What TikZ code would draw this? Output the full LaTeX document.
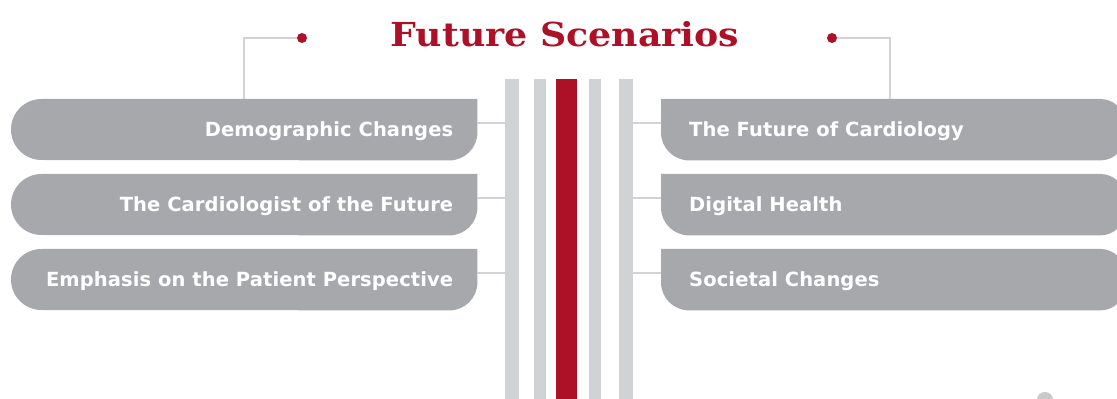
\documentclass[tikz,border=0pt]{standalone}
\usepackage{fontspec}
\setmainfont{DejaVu Sans}
\newfontfamily\titlefont[UprightFont={* Bold}, FakeStretch=1.1]{DejaVu Serif}
\newfontfamily\boxfont[UprightFont={* Bold}, LetterSpace=0.5]{DejaVu Sans}
\definecolor{fsred}{HTML}{AC1128}
\definecolor{boxgray}{HTML}{A7A8AB}
\definecolor{bargray}{HTML}{D1D2D4}
\definecolor{conngray}{HTML}{D3D3D5}
\definecolor{dotgray}{HTML}{C9C9CB}
\tikzset{
  holder/.style={rectangle, inner sep=0pt, minimum width=#1, minimum height=61pt},
  boxtext/.style={inner sep=0pt, text=white, font=\boxfont\fontsize{19.5}{20}\selectfont},
  bar/.style={rectangle, inner sep=0pt, minimum height=340pt, anchor=north west},
  conn/.style={draw=conngray, line width=1.5pt},
  reddot/.style={circle, fill=fsred, inner sep=0pt, minimum size=10pt},
  titletext/.style={inner sep=0pt, text=fsred, font=\titlefont\fontsize{33}{36}\selectfont}
}
\newcommand\LBox[3]{%
  \node[holder=466pt, anchor=north west] (#1) at (11,#2) {};
  \fill[boxgray] (#1.north east) -- ([xshift=30.5pt]#1.north west)
     arc[start angle=90, end angle=270, radius=30.5pt]
     -- ([xshift=-28pt]#1.south east)
     arc[start angle=270, end angle=360, radius=28pt] -- cycle;
  \node[boxtext, anchor=base east] (#1t) at ([xshift=-24pt, yshift=-38pt]#1.north east) {#3};
}
\newcommand\RBox[3]{%
  \node[holder=464pt, anchor=north west] (#1) at (661,#2) {};
  \fill[boxgray] (#1.north west) -- ([xshift=-25pt]#1.north east)
     arc[start angle=90, end angle=0, radius=25pt]
     -- ([yshift=25pt]#1.south east)
     arc[start angle=0, end angle=-90, radius=25pt]
     -- ([xshift=28pt]#1.south west)
     arc[start angle=270, end angle=180, radius=28pt] -- cycle;
  \node[boxtext, anchor=base west] (#1t) at ([xshift=28pt, yshift=-38pt]#1.north west) {#3};
}
\begin{document}
\begin{tikzpicture}[x=1pt, y=1pt]
\useasboundingbox (0,0) rectangle (1117,399);
% bars
\node[bar, fill=bargray, minimum width=14pt] (b1) at (505,320) {};
\node[bar, fill=bargray, minimum width=11.5pt] (b2) at (534,320) {};
\node[bar, fill=fsred, minimum width=21pt] (b3) at (556,320) {};
\node[bar, fill=bargray, minimum width=11.5pt] (b4) at (589,320) {};
\node[bar, fill=bargray, minimum width=14pt] (b5) at (619,320) {};
% boxes
\LBox{L1}{300}{Demographic Changes}
\LBox{L2}{225}{The Cardiologist of the Future}
\LBox{L3}{150}{Emphasis on the Patient Perspective}
\RBox{R1}{300}{The Future of Cardiology}
\RBox{R2}{225}{Digital Health}
\RBox{R3}{150}{Societal Changes}
% connectors to bars
\foreach \n in {1,2,3}{
  \coordinate (cl\n) at ([yshift=6.5pt]L\n.east);
  \draw[conn] (cl\n) -- (cl\n -| b1.west);
  \coordinate (cr\n) at ([yshift=6.5pt]R\n.west);
  \draw[conn] (cr\n) -- (cr\n -| b5.east);
}
% title and dots
\node[titletext, anchor=base] (title) at (565,352) {Future Scenarios};
\node[reddot] (dl) at (302,361) {};
\node[reddot] (dr) at (832,361) {};
\draw[conn] (dl.west) -| (L1.north);
\draw[conn] (dr.east) -| ([xshift=-3pt]R1.north);
% partial circle at the bottom
\node[circle, fill=dotgray, inner sep=0pt, minimum size=16pt] (bd) at (1045,-1) {};
\end{tikzpicture}
\end{document}
